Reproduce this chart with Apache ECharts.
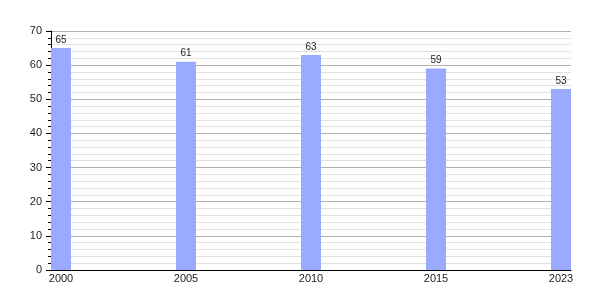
<!DOCTYPE html>
<html><head><meta charset="utf-8">
<script src="https://cdn.jsdelivr.net/npm/echarts@6/dist/echarts.min.js"></script>
<style>html,body{margin:0;padding:0;background:#fff}#c{width:600px;height:300px}</style>
</head><body><div id="c"></div>
<script>
const years = ['2000', '2005', '2010', '2015', '2023'];
const values = [65, 61, 63, 59, 53];
const yTicks = [0, 10, 20, 30, 40, 50, 60, 70];

const chart = echarts.init(document.getElementById('c'), null, {renderer: 'canvas'});
const idx = years.map((_, i) => i);
chart.setOption({
  animation: false,
  textStyle: {fontFamily: 'Liberation Sans, Arial, sans-serif'},
  grid: {left: 51, right: 29, top: 31, bottom: 30},
  xAxis: {
    type: 'value', min: -0.08, max: years.length - 1 + 0.08,
    axisLine: {show: true, onZero: false, lineStyle: {color: '#000', width: 1}},
    axisTick: {show: false},
    splitLine: {show: false},
    axisLabel: {customValues: idx, formatter: v => years[Math.round(v)], color: '#222', fontSize: 11, margin: 3, showMinLabel: true, showMaxLabel: true}
  },
  yAxis: {
    type: 'value', min: yTicks[0], max: yTicks[yTicks.length - 1], interval: 10,
    axisLine: {show: true, onZero: false, lineStyle: {color: '#000', width: 1}},
    axisTick: {show: true, length: 5, lineStyle: {color: '#000'}},
    minorTick: {show: true, splitNumber: 5, length: 3, lineStyle: {color: '#000'}},
    splitLine: {show: true, lineStyle: {color: '#b0b0b0', width: 1}},
    minorSplitLine: {show: true, lineStyle: {color: '#e2e2e2', width: 1}},
    axisLabel: {color: '#222', fontSize: 11, margin: 9}
  },
  series: [{
    type: 'bar', barWidth: 20,
    data: values.map((v, i) => [i, v]),
    itemStyle: {color: '#99aaff'},
    label: {show: true, position: 'top', color: '#222', fontSize: 10, distance: 3, formatter: p => p.value[1]}
  }]
});
</script></body></html>
